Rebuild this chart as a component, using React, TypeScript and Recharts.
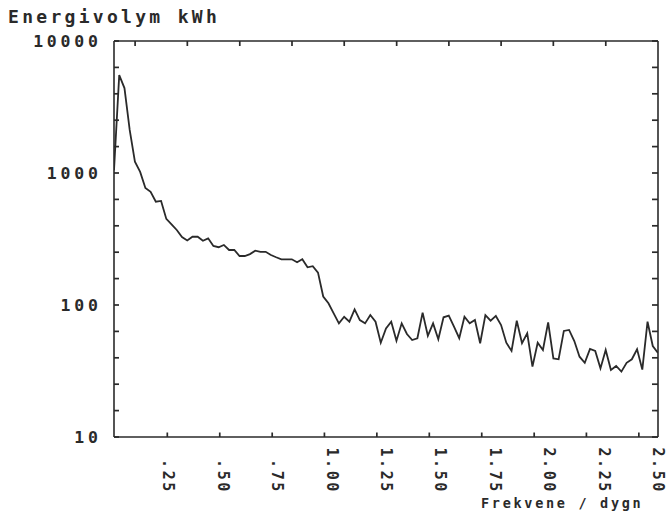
import React from 'react';
import { LineChart, Line, XAxis, YAxis, ReferenceLine } from 'recharts';

// Energy spectrum, one value per frequency step (kWh)
const energyKWh = [
  1050, 5520, 4400, 2120, 1220, 1020, 770, 720, 606, 614,
  449, 408, 370, 327, 308, 329, 329, 307, 320, 280,
  274, 285, 261, 261, 235, 235, 243, 258, 253, 253,
  239, 230, 222, 222, 222, 211, 222, 193, 197, 176,
  116, 103, 86.5, 72.6, 81.5, 74.7, 92.7, 76.9, 72.6, 83.9,
  74.7, 51.8, 66.5, 74.7, 53.7, 72.6, 60.3, 54.3, 56, 87.5,
  58.5, 72.6, 55, 80.7, 83, 68.5, 56, 81.5, 72.6, 76.9,
  51.3, 83.9, 76, 82.6, 70.5, 51.8, 44.9, 76, 51.3, 61.1,
  34.1, 51.8, 45.6, 73.9, 39.4, 38.8, 63.6, 64.7, 53.3, 40.6,
  36.5, 46.4, 44.9, 33.1, 45.6, 32.2, 34.5, 31.3, 36.5, 38.8,
  46.2, 32.4, 74.7, 48.9, 43.3,
];

// Frequency resolution (cycles per day) between consecutive values
const FREQ_STEP = 2.5 / 104;

// Labelled frequency positions along the bottom edge
const freqLabels = [0.25, 0.5, 0.75, 1.0, 1.25, 1.5, 1.75, 2.0, 2.25, 2.5];
// Plotter tick marks along the bottom and top frame edges
const bottomMarks = [0.245, 0.486, 0.727, 0.967, 1.208, 1.449, 1.69, 1.931, 2.171, 2.412];
const topMarks = [0.097, 0.337, 0.578, 0.818, 1.058, 1.299, 1.539, 1.779, 2.019, 2.26];

// Energy axis: labelled decades and fifth-of-a-decade marks
const decadeLabels = [10, 100, 1000, 10000];
const energyMarks = [
  10, 15.85, 25.12, 39.81, 63.1, 100, 158.5, 251.2, 398.1, 631,
  1000, 1585, 2512, 3981, 6310, 10000,
];

const rows = energyKWh.map((e, i) => ({ f: i * FREQ_STEP, e }));
const freqTicks = [...freqLabels, ...bottomMarks, ...topMarks].sort((a, b) => a - b);

// Layout
const CHART_W = 667;
const CHART_H = 514;
const MARGIN = { top: 41, right: 9, bottom: 17, left: 54 };
const Y_AXIS_W = 60;
const X_AXIS_H = 60;
const PLOT_W = CHART_W - MARGIN.left - MARGIN.right - Y_AXIS_W;
const PLOT_H = CHART_H - MARGIN.top - MARGIN.bottom - X_AXIS_H;

const INK = '#2a2a2a';
const MONO = '"DejaVu Sans Mono", "Liberation Mono", monospace';

const fmtFreq = (v: number) => {
  const s = v.toFixed(2);
  return v < 1 ? s.slice(1) : s;
};

// Bottom axis: rotated labels, inward marks on the bottom and top edges
function FreqTick(props: any) {
  const { x, y, payload } = props;
  const v = payload.value;
  return (
    <g>
      {bottomMarks.includes(v) && (
        <line x1={x} y1={y} x2={x} y2={y - 4.5} stroke={INK} strokeWidth={1.7} />
      )}
      {topMarks.includes(v) && (
        <line x1={x} y1={y - PLOT_H} x2={x} y2={y - PLOT_H + 5} stroke={INK} strokeWidth={1.7} />
      )}
      {freqLabels.includes(v) && (
        <text
          x={x}
          y={y + 57}
          transform={`rotate(90, ${x}, ${y + 57})`}
          textAnchor="end"
          dominantBaseline="central"
          fontFamily={MONO}
          fontWeight="bold"
          fontSize={15}
          letterSpacing={2.6}
          fill={INK}
        >
          {fmtFreq(v)}
        </text>
      )}
    </g>
  );
}

// Left axis: decade labels, inward marks on the left and right edges
function EnergyTick(props: any) {
  const { x, y, payload } = props;
  const v = payload.value;
  return (
    <g>
      <line x1={x} y1={y} x2={x + 5} y2={y} stroke={INK} strokeWidth={1.7} />
      <line x1={x + PLOT_W} y1={y} x2={x + PLOT_W - 6} y2={y} stroke={INK} strokeWidth={1.7} />
      {decadeLabels.includes(v) && (
        <text
          x={x - 12.2}
          y={y}
          textAnchor="end"
          dominantBaseline="central"
          fontFamily={MONO}
          fontWeight="bold"
          fontSize={16.5}
          letterSpacing={3.8}
          fill={INK}
        >
          {v}
        </text>
      )}
    </g>
  );
}

const frame = { stroke: INK, strokeWidth: 1.6 };

export default function App() {
  return (
    <div style={{ position: 'absolute', left: 0, top: 0, width: CHART_W, height: CHART_H, background: '#fff' }}>
      <LineChart width={CHART_W} height={CHART_H} data={rows} margin={MARGIN}>
        <XAxis
          xAxisId="freq"
          dataKey="f"
          type="number"
          domain={[0, 2.5]}
          allowDataOverflow
          ticks={freqTicks}
          interval={0}
          height={X_AXIS_H}
          tickSize={0}
          tickMargin={0}
          tickLine={false}
          axisLine={frame}
          tick={FreqTick}
        />
        <YAxis
          yAxisId="energy"
          dataKey="e"
          type="number"
          scale="log"
          domain={[10, 10000]}
          allowDataOverflow
          ticks={energyMarks}
          interval={0}
          width={Y_AXIS_W}
          tickSize={0}
          tickMargin={0}
          tickLine={false}
          axisLine={frame}
          tick={EnergyTick}
        />
        <ReferenceLine xAxisId="freq" yAxisId="energy" y={10000} stroke={INK} strokeWidth={1.6} />
        <ReferenceLine xAxisId="freq" yAxisId="energy" x={2.5} stroke={INK} strokeWidth={1.6} />
        <Line
          xAxisId="freq"
          yAxisId="energy"
          dataKey="e"
          type="linear"
          stroke={INK}
          strokeWidth={1.8}
          dot={false}
          activeDot={false}
          isAnimationActive={false}
        />
      </LineChart>
      <svg
        width={CHART_W}
        height={CHART_H}
        style={{ position: 'absolute', left: 0, top: 0, pointerEvents: 'none' }}
      >
        <text x={8} y={23} fontFamily={MONO} fontWeight="bold" fontSize={18} letterSpacing={3.3} fill={INK}>
          Energivolym kWh
        </text>
        <text x={481} y={508} fontFamily={MONO} fontWeight="bold" fontSize={13.5} letterSpacing={2.7} fill={INK}>
          Frekvene / dygn
        </text>
      </svg>
    </div>
  );
}
